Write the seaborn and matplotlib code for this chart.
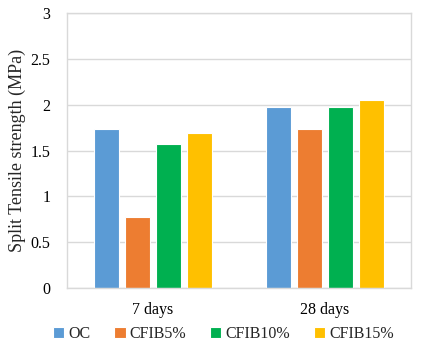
import matplotlib
matplotlib.use("Agg")
import matplotlib.pyplot as plt
import seaborn as sns
import pandas as pd

ages = ["7 days", "28 days"]
mixes = ["OC", "CFIB5%", "CFIB10%", "CFIB15%"]
oc = [1.73, 1.97]
cfib5 = [0.77, 1.73]
cfib10 = [1.57, 1.97]
cfib15 = [1.69, 2.05]
colors = ["#5B9BD5", "#ED7D31", "#00B050", "#FFC000"]

rows = []
for name, vals in zip(mixes, [oc, cfib5, cfib10, cfib15]):
    for a, v in zip(ages, vals):
        rows.append({"Age": a, "Mix": name, "Value": v})
df = pd.DataFrame(rows)

sns.set_theme(style="white")
plt.rcParams["font.family"] = ["Liberation Serif", "DejaVu Serif"]

fig = plt.figure(figsize=(4.23, 3.46), dpi=100)
ax = fig.add_axes([0.158, 0.168, 0.814, 0.794])
sns.barplot(data=df, x="Age", y="Value", hue="Mix", hue_order=mixes,
            palette=colors, width=0.72, gap=0.2, ax=ax, saturation=1,
            edgecolor="white", linewidth=0.8, errorbar=None)

ax.set_ylim(0, 3)
ax.set_yticks([0, 0.5, 1, 1.5, 2, 2.5, 3])
ax.set_yticklabels(["0", "0.5", "1", "1.5", "2", "2.5", "3"])
ax.yaxis.grid(True, color="#D9D9D9", linewidth=1)
ax.set_axisbelow(True)
for s in ax.spines.values():
    s.set_color("#D9D9D9")
    s.set_linewidth(1)
ax.tick_params(axis="both", length=0, labelsize=11.5, colors="black")
ax.tick_params(axis="y", pad=12)
ax.tick_params(axis="x", pad=10)
ax.set_xlabel("")
ax.set_ylabel("Split Tensile strength (MPa)", fontsize=13, labelpad=3)

ax.legend(loc="upper center", bbox_to_anchor=(0.455, -0.115), ncol=4, frameon=False,
          fontsize=11.5, handlelength=0.7, handleheight=0.7, handletextpad=0.25,
          columnspacing=1.5, borderaxespad=0)

fig.savefig("out.png", dpi=100)
